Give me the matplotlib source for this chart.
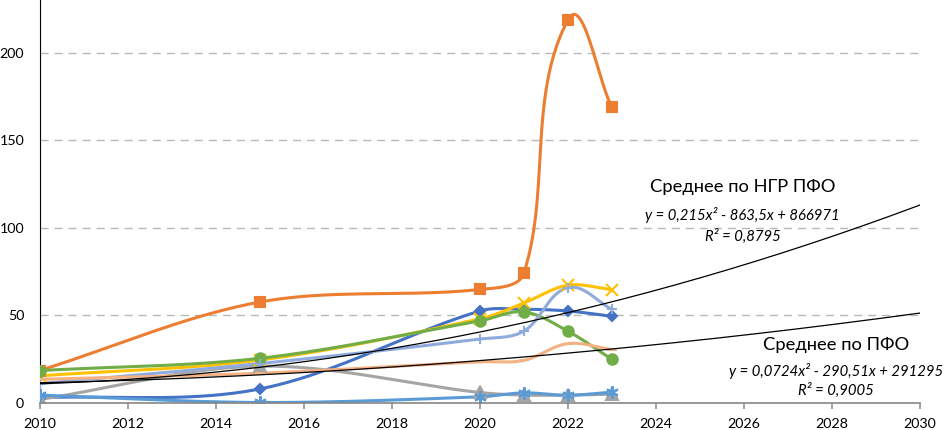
import numpy as np
import matplotlib
matplotlib.use("Agg")
import matplotlib.pyplot as plt

plt.rcParams['font.family'] = ['Lato', 'Open Sans', 'DejaVu Sans']

years = [2010, 2015, 2020, 2021, 2022, 2023]

s_darkblue = [3, 8, 52.5, 53.5, 52.5, 49.5]
s_orange = [18.5, 57.6, 64.8, 74, 218.5, 168.8]
s_gray = [2, 21, 6, 4.5, 4.5, 5]
s_gold = [15.5, 24.5, 48, 57, 67.2, 64.7]
s_steel = [4.5, 0.3, 3.5, 5.8, 4.4, 6.2]
s_green = [18.5, 25.5, 46.8, 52, 41, 24.9]
s_lavender = [11, 22.5, 36.5, 41, 65.8, 53.5]
s_salmon = [13.5, 17, 23.5, 24.3, 33.9, 30.5]

series = [
    (s_darkblue, '#4472C4', 'D', 5.5),
    (s_orange, '#ED7D31', 's', 7),
    (s_gray, '#A5A5A5', '^', 8),
    (s_gold, '#FFC000', 'x', 8),
    (s_steel, '#5B9BD5', (6, 2, 0), 9),
    (s_green, '#70AD47', 'o', 7.5),
    (s_lavender, '#8FAADC', '+', 7),
    (s_salmon, '#F4B183', '_', 7),
]

# polynomial trend lines (coefficients around 2020: a*t^2 + b*t + c, t = year-2020)
trend_ngr = [0.215, 5.1, 40.5]
trend_pfo = [0.0724, 1.99, 24.2]
trend_range = [2010, 2030]

XLIM = (2010, 2030)
YLIM = (0, 230)
FIG_W, FIG_H = 944, 430
AX = [39.5, 27, 920 - 39.5, 403]  # left, bottom, width, height in px

SX = AX[2] / (XLIM[1] - XLIM[0])
SY = AX[3] / (YLIM[1] - YLIM[0])


def smooth(xs, ys, n=60):
    """Bezier smoothing (Excel-like), computed in screen space with chord-length tangents."""
    P = np.column_stack([np.asarray(xs, float) * SX, np.asarray(ys, float) * SY])
    out = []
    for i in range(len(P) - 1):
        p0 = P[i - 1] if i > 0 else P[i]
        p1 = P[i]
        p2 = P[i + 1]
        p3 = P[i + 2] if i + 2 < len(P) else P[i + 1]
        d = np.linalg.norm(p2 - p1)
        t1 = p2 - p0
        t2 = p3 - p1
        t1 = t1 / np.linalg.norm(t1)
        t2 = t2 / np.linalg.norm(t2)
        c1 = p1 + t1 * d / 3
        c2 = p2 - t2 * d / 3
        t = np.linspace(0, 1, n)[:, None]
        seg = (1 - t) ** 3 * p1 + 3 * (1 - t) ** 2 * t * c1 + 3 * (1 - t) * t ** 2 * c2 + t ** 3 * p2
        out.append(seg if i == 0 else seg[1:])
    res = np.vstack(out)
    return res[:, 0] / SX, res[:, 1] / SY


fig = plt.figure(figsize=(FIG_W / 100, FIG_H / 100), dpi=100)
ax = fig.add_axes([AX[0] / FIG_W, AX[1] / FIG_H, AX[2] / FIG_W, AX[3] / FIG_H])

for vals, col, mk, ms in series:
    cx, cy = smooth(years, vals)
    ax.plot(cx, cy, color=col, lw=2.2, solid_capstyle='round', zorder=3)
    ax.plot(years, vals, linestyle='none', marker=mk, markersize=ms, color=col,
            markeredgecolor=col, markeredgewidth=1.5, zorder=4)

tx = np.linspace(trend_range[0], trend_range[1], 200)
for coef in (trend_ngr, trend_pfo):
    ax.plot(tx, np.polyval(coef, tx - 2020), color='black', lw=0.9, zorder=5)

ax.set_xlim(*XLIM)
ax.set_ylim(*YLIM)
ax.set_xticks(range(2010, 2031, 2))
ax.set_yticks([0, 50, 100, 150, 200])
for yv in [50, 100, 150, 200]:
    ax.axhline(yv, color='#B8B8B8', lw=1.0, dashes=(5.8, 4.3), zorder=1)

for sp in ['top', 'right']:
    ax.spines[sp].set_visible(False)
ax.spines['left'].set_color('black')
ax.spines['left'].set_linewidth(0.8)
ax.spines['bottom'].set_color('#868686')
ax.spines['bottom'].set_linewidth(1.2)
ax.spines['bottom'].set_zorder(6)
ax.tick_params(axis='x', direction='out', length=4, width=1.1, color='#868686',
               labelsize=10.3, pad=6.5, labelcolor='black')
ax.tick_params(axis='y', length=0, labelsize=10.3, pad=11, labelcolor='black')

ax.text(2025.97, 123.1, 'Среднее по НГР ПФО', ha='center', va='center', fontsize=13.2)
ax.text(2025.97, 107.1, 'y = 0,215x² - 863,5x + 866971', ha='center', va='center',
        fontsize=10.7, style='italic')
ax.text(2025.97, 95.1, 'R² = 0,8795', ha='center', va='center', fontsize=10.7, style='italic')
ax.text(2028.1, 33, 'Среднее по ПФО', ha='center', va='center', fontsize=13.2)
ax.text(2028.1, 18.3, 'y = 0,0724x² - 290,51x + 291295', ha='center', va='center',
        fontsize=10.7, style='italic', clip_on=False)
ax.text(2028.1, 7.2, 'R² = 0,9005', ha='center', va='center', fontsize=10.7, style='italic')

fig.savefig('out.png', dpi=100)
